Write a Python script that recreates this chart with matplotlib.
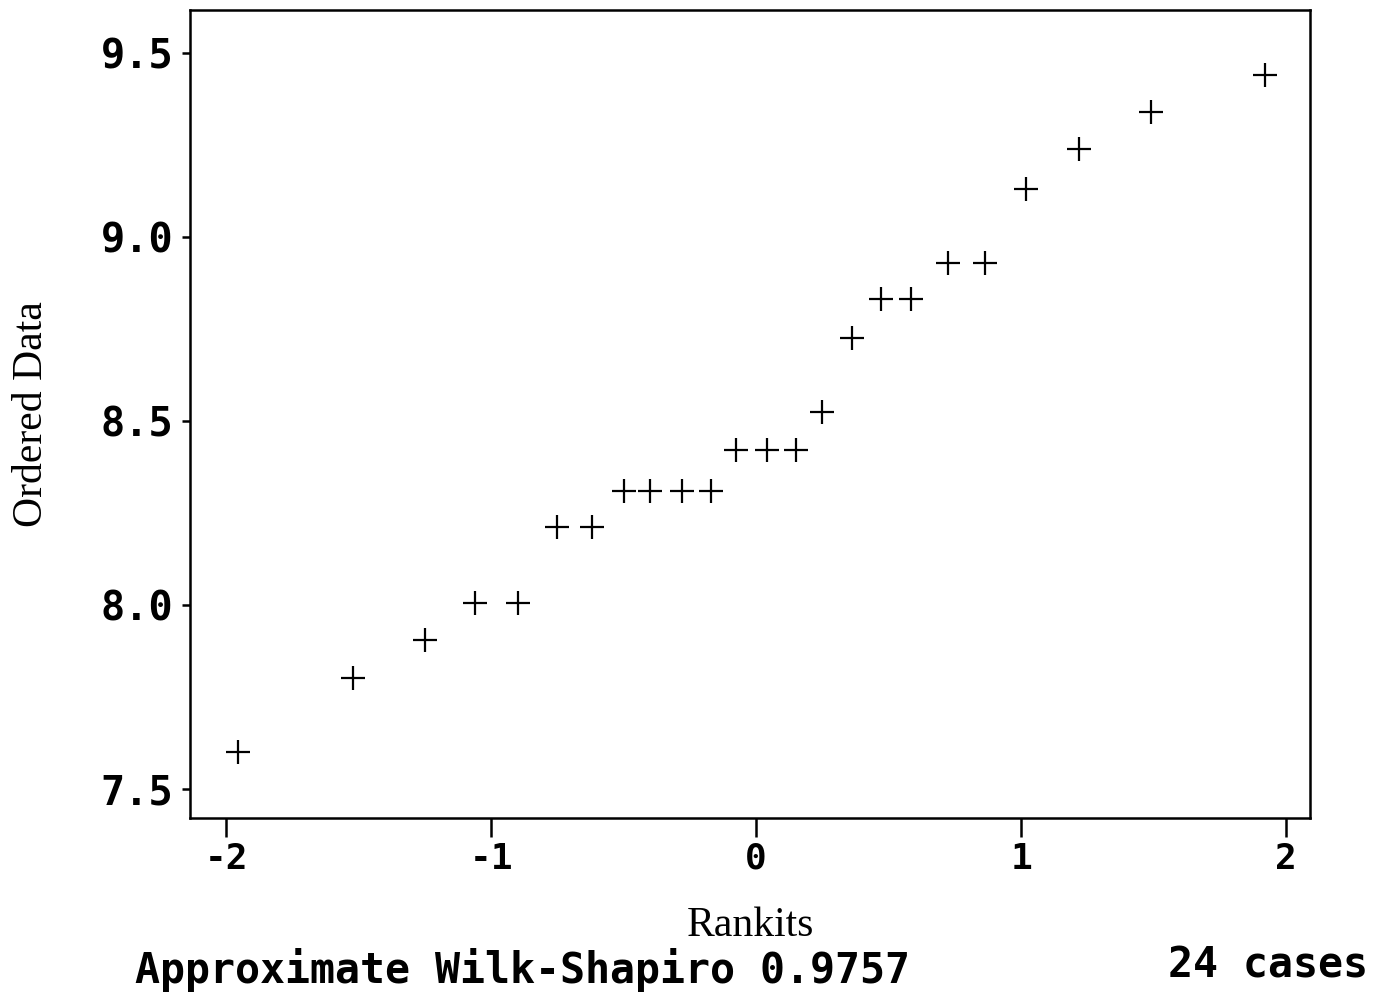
import matplotlib.pyplot as plt

# rankits (x) and ordered data (y)
rankits = [-1.955, -1.52, -1.25, -1.06, -0.90, -0.75, -0.62, -0.50, -0.40, -0.28,
           -0.17, -0.075, 0.04, 0.15, 0.25, 0.36, 0.47, 0.585, 0.725, 0.865,
           1.02, 1.22, 1.49, 1.92]
ordered = [7.60, 7.80, 7.905, 8.005, 8.005, 8.21, 8.21, 8.31, 8.31, 8.31,
           8.31, 8.42, 8.42, 8.42, 8.525, 8.725, 8.83, 8.83, 8.93, 8.93,
           9.13, 9.24, 9.34, 9.44]

xticks = [-2, -1, 0, 1, 2]
xticklabels = ["-2", "-1", "0", "1", "2"]
yticks = [7.5, 8.0, 8.5, 9.0, 9.5]
yticklabels = ["7.5", "8.0", "8.5", "9.0", "9.5"]

mono = "DejaVu Sans Mono"
serif = "Liberation Serif"

fig = plt.figure(figsize=(13.84, 10), dpi=100)
ax = fig.add_axes([190 / 1384, 1 - 818 / 1000, 1120 / 1384, 808 / 1000])

ax.plot(rankits, ordered, linestyle="none", marker="+", markersize=17,
        markeredgewidth=1.6, color="black")

ax.set_xlim(-2.136, 2.09)
ax.set_ylim(7.42, 9.617)

ax.set_xticks(xticks)
ax.set_xticklabels(xticklabels, fontfamily=mono, fontweight="bold", fontsize=26)
ax.set_yticks(yticks)
ax.set_yticklabels(yticklabels, fontfamily=mono, fontweight="bold", fontsize=29)
ax.tick_params(axis="x", direction="out", length=14, width=1.8, pad=3)
ax.tick_params(axis="y", direction="out", length=6, width=1.8, pad=6)

for s in ax.spines.values():
    s.set_linewidth(1.8)

ax.set_xlabel("Rankits", fontfamily=serif, fontsize=30, labelpad=22)
ax.set_ylabel("Ordered Data", fontfamily=serif, fontsize=30, labelpad=36)

fig.text(135 / 1384, 1 - 970 / 1000, "Approximate Wilk-Shapiro 0.9757",
         fontfamily=mono, fontweight="bold", fontsize=30, va="center", ha="left")
fig.text(1368 / 1384, 1 - 966 / 1000, "24 cases",
         fontfamily=mono, fontweight="bold", fontsize=30, va="center", ha="right")

fig.savefig("out.png", dpi=100, facecolor="white")
